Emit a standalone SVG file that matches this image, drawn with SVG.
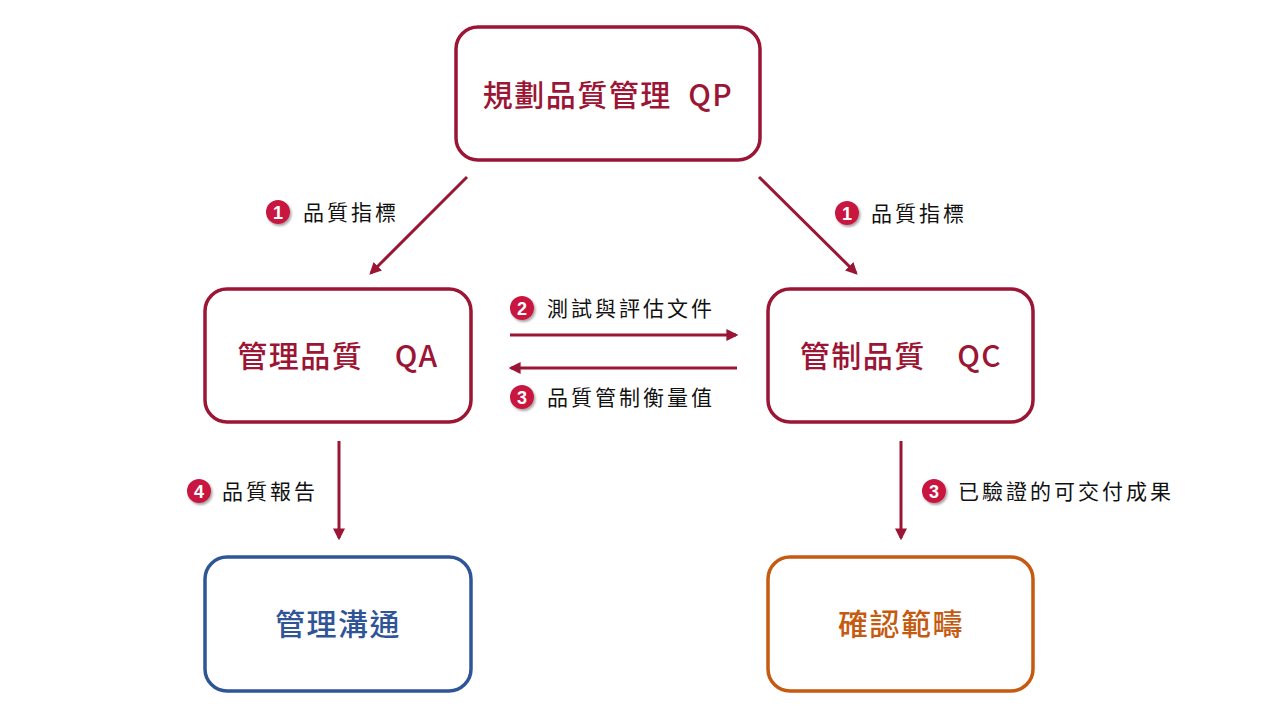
<svg xmlns="http://www.w3.org/2000/svg" width="1280" height="720" viewBox="0 0 1280 720">
<defs>
<style>
.box{fill:#fff;stroke-width:3.5}
.red{stroke:#9b1535}
.ntext{font-family:"Noto Sans CJK TC","Noto Sans CJK SC",sans-serif;font-size:30px;font-weight:500;letter-spacing:1.5px;text-anchor:middle}
.lbl{font-family:"Noto Sans CJK TC","Noto Sans CJK SC",sans-serif;font-size:21px;font-weight:400;letter-spacing:3px;fill:#111}
.badge{fill:#c8193f}
.bnum{font-family:"Liberation Sans",Arial,sans-serif;font-size:18px;font-weight:bold;fill:#fff;text-anchor:middle}
.conn{stroke:#9b1535;stroke-width:3;fill:none;marker-end:url(#ah)}
</style>
<marker id="ah" viewBox="0 0 10 10" refX="8" refY="5" markerWidth="4" markerHeight="4" markerUnits="strokeWidth" orient="auto">
<path d="M0,0 L10,5 L0,10 Z" fill="#9b1535"/>
</marker>
<filter id="sh" x="-50%" y="-50%" width="200%" height="200%">
<feDropShadow dx="1.5" dy="2" stdDeviation="1.2" flood-color="#000" flood-opacity="0.35"/>
</filter>
</defs>
<rect width="1280" height="720" fill="#fff"/>

<g id="connectors">
<line class="conn" x1="467" y1="177" x2="371" y2="273"/>
<line class="conn" x1="759" y1="177" x2="856" y2="273"/>
<line class="conn" x1="510" y1="335" x2="736" y2="335"/>
<line class="conn" x1="737" y1="368" x2="511" y2="368"/>
<line class="conn" x1="339" y1="441" x2="339" y2="538"/>
<line class="conn" x1="901" y1="441" x2="901" y2="538"/>
</g>

<g id="labels">
<g id="lbl-qa-metric"><circle class="badge" cx="278" cy="212" r="12" filter="url(#sh)"/><text class="bnum" x="278" y="218.5">1</text><text class="lbl" x="303" y="220">品質指標</text></g>
<g id="lbl-qc-metric"><circle class="badge" cx="847" cy="213" r="12" filter="url(#sh)"/><text class="bnum" x="847" y="219.5">1</text><text class="lbl" x="871" y="221">品質指標</text></g>
<g id="lbl-test"><circle class="badge" cx="522" cy="308" r="12" filter="url(#sh)"/><text class="bnum" x="522" y="314.5">2</text><text class="lbl" x="547" y="316">測試與評估文件</text></g>
<g id="lbl-measure"><circle class="badge" cx="522" cy="397" r="12" filter="url(#sh)"/><text class="bnum" x="522" y="403.5">3</text><text class="lbl" x="547" y="405">品質管制衡量值</text></g>
<g id="lbl-report"><circle class="badge" cx="199" cy="491" r="12" filter="url(#sh)"/><text class="bnum" x="199" y="497.5">4</text><text class="lbl" x="222" y="499">品質報告</text></g>
<g id="lbl-verified"><circle class="badge" cx="934" cy="491" r="12" filter="url(#sh)"/><text class="bnum" x="934" y="497.5">3</text><text class="lbl" x="958" y="499">已驗證的可交付成果</text></g>
</g>

<g id="node-qp">
<rect class="box red" x="456" y="27" width="304" height="133" rx="22"/>
<text class="ntext" x="608" y="106" fill="#9b1535" xml:space="preserve">規劃品質管理  QP</text>
</g>
<g id="node-qa">
<rect class="box red" x="205" y="289" width="266" height="133" rx="22"/>
<text class="ntext" x="338" y="367" fill="#9b1535" xml:space="preserve">管理品質　QA</text>
</g>
<g id="node-qc">
<rect class="box red" x="768" y="289" width="265" height="133" rx="22"/>
<text class="ntext" x="901" y="367" fill="#9b1535" xml:space="preserve">管制品質　QC</text>
</g>
<g id="node-comm">
<rect class="box" x="205" y="557" width="266" height="134" rx="22" stroke="#2f5597"/>
<text class="ntext" x="338" y="635" fill="#2f5597">管理溝通</text>
</g>
<g id="node-scope">
<rect class="box" x="768" y="557" width="265" height="134" rx="22" stroke="#c55a11"/>
<text class="ntext" x="901" y="635" fill="#c55a11">確認範疇</text>
</g>
</svg>
